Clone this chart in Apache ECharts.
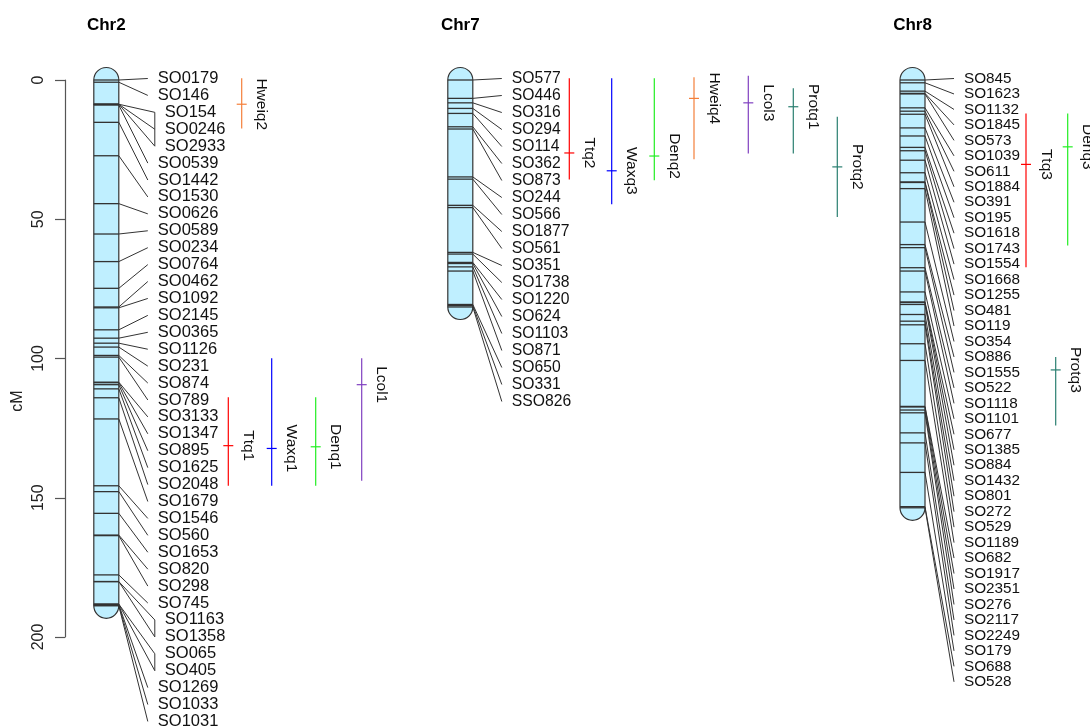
<!DOCTYPE html>
<html>
<head>
<meta charset="utf-8">
<script src="https://cdn.jsdelivr.net/npm/echarts@6/dist/echarts.min.js"></script>
<style>
  html, body { margin: 0; padding: 0; background: #ffffff; }
  #chart { width: 1090px; height: 727px; }
</style>
</head>
<body>
<div id="chart"></div>
<script>
// ---- Linkage groups: marker names and positions (cM) ----
const chromNames = ['Chr2', 'Chr7', 'Chr8'];

const chr2Markers = ['SO0179', 'SO146', 'SO154', 'SO0246', 'SO2933', 'SO0539', 'SO1442', 'SO1530',
  'SO0626', 'SO0589', 'SO0234', 'SO0764', 'SO0462', 'SO1092', 'SO2145', 'SO0365', 'SO1126', 'SO231',
  'SO874', 'SO789', 'SO3133', 'SO1347', 'SO895', 'SO1625', 'SO2048', 'SO1679', 'SO1546', 'SO560',
  'SO1653', 'SO820', 'SO298', 'SO745', 'SO1163', 'SO1358', 'SO065', 'SO405', 'SO1269', 'SO1033', 'SO1031'];
const chr2Pos = [0, 0.8, 8.7, 8.7, 8.7, 9.0, 15.2, 27.2,
  44.4, 55.3, 65.2, 74.8, 81.5, 81.8, 89.7, 92.7, 94.5, 95.9,
  98.9, 99.5, 108.5, 108.7, 109.4, 110.9, 114.1, 121.7, 145.7, 147.8,
  155.6, 163.4, 163.6, 177.7, 180.1, 180.1, 188.2, 188.2, 188.4, 188.6, 188.8];

const chr7Markers = ['SO577', 'SO446', 'SO316', 'SO294', 'SO114', 'SO362', 'SO873', 'SO244', 'SO566',
  'SO1877', 'SO561', 'SO351', 'SO1738', 'SO1220', 'SO624', 'SO1103', 'SO871', 'SO650', 'SO331', 'SSO826'];
const chr7Pos = [0, 6.6, 8.2, 10.2, 12.0, 16.8, 17.6, 34.8, 35.6,
  45.0, 45.8, 61.9, 62.5, 65.5, 65.9, 67.1, 68.6, 80.6, 81.0, 81.5];

const chr8Markers = ['SO845', 'SO1623', 'SO1132', 'SO1845', 'SO573', 'SO1039', 'SO611', 'SO1884', 'SO391',
  'SO195', 'SO1618', 'SO1743', 'SO1554', 'SO1668', 'SO1255', 'SO481', 'SO119', 'SO354', 'SO886', 'SO1555',
  'SO522', 'SO1118', 'SO1101', 'SO677', 'SO1385', 'SO884', 'SO1432', 'SO801', 'SO272', 'SO529', 'SO1189',
  'SO682', 'SO1917', 'SO2351', 'SO276', 'SO2117', 'SO2249', 'SO179', 'SO688', 'SO528'];
const chr8Pos = [0, 1.0, 4.0, 4.8, 5.0, 10.0, 11.2, 12.3, 17.2,
  20.1, 24.2, 25.4, 28.8, 33.3, 36.6, 36.8, 39.0, 51.0, 59.1, 60.2,
  67.4, 68.6, 76.1, 79.7, 79.9, 80.6, 84.2, 86.6, 87.9, 94.7, 100.7,
  117.2, 117.4, 118.5, 119.5, 126.7, 130.3, 140.9, 153.2, 153.6];

// ---- QTL intervals (cM): start, peak, end ----
const qtlNames = ['Hweiq2', 'Ttq1', 'Waxq1', 'Denq1', 'Lcol1',
  'Ttq2', 'Waxq3', 'Denq2', 'Hweiq4', 'Lcol3', 'Protq1', 'Protq2',
  'Ttq3', 'Protq3', 'Denq3'];
const qtlChrom = [0, 0, 0, 0, 0, 1, 1, 1, 1, 1, 1, 1, 2, 2, 2];
const qtlStart = [-0.6, 113.9, 99.9, 113.9, 99.9, -0.6, -0.6, -0.6, -1.0, -1.5, 3.0, 13.2, 12.0, 99.5, 12.0];
const qtlPeak  = [8.7, 131.3, 132.3, 131.7, 109.4, 26.2, 32.6, 27.3, 6.6, 8.2, 9.6, 31.2, 30.3, 104.1, 24.0];
const qtlEnd   = [17.4, 145.7, 145.7, 145.7, 143.9, 35.7, 44.6, 36.0, 28.5, 26.4, 26.4, 49.2, 67.2, 124.1, 59.4];

// ---- Axis ----
const cmMin = 0;
const cmMax = 200;
const cmStep = 50;

// ---- Layout and styles ----
const markerSets = [chr2Markers, chr7Markers, chr8Markers];
const posSets = [chr2Pos, chr7Pos, chr8Pos];

const FONT = '"Liberation Sans", Arial, Helvetica, sans-serif';
const LAYOUT = {
  chromX: [106.3, 460.3, 912.5],
  chromW: 25,
  linkLen: 29,
  labelGap: 10,
  bracketShift: 7,
  labelStep: [16.92, 17.0, 15.47],
  labelFont: [16.5, 15.7, 15.3],
  firstLift: 1.5,
  titleY: 25,
  qtlX: [241.7, 228.3, 271.7, 315.7, 361.7, 569.3, 611.7, 654.3, 694, 748.3, 793.3, 837.3, 1026, 1055.7, 1067.7],
  qtlLabelDx: 20,
  qtlFont: 15.5
};
const QTL_COLORS = {
  Hweiq: '#F47F3A', Ttq: '#FF0000', Waxq: '#0000FF',
  Denq: '#22EE22', Lcol: '#8040C0', Protq: '#2A7F70'
};
const INK = '#333333';

// Marker labels are stacked at an even step, starting level with the first marker
function labelY(api, c, i) {
  const y0 = api.coord([c, posSets[c][0]])[1];
  return y0 - LAYOUT.firstLift + i * LAYOUT.labelStep[c];
}

function renderChrom(params, api) {
  const c = api.value(0);
  const top = api.coord([c, api.value(1)])[1];
  const bot = api.coord([c, api.value(2)])[1];
  const w = LAYOUT.chromW, r = w / 2;
  const cx = LAYOUT.chromX[c];
  return {
    type: 'group',
    children: [
      {
        type: 'rect',
        shape: { x: cx - r, y: top - r, width: w, height: bot - top + w, r: r },
        style: { fill: '#BFEFFF', stroke: INK, lineWidth: 1.2 }
      },
      {
        type: 'text', x: cx, y: LAYOUT.titleY,
        style: { text: chromNames[c], font: 'bold 17px ' + FONT, align: 'center', verticalAlign: 'middle', fill: '#000' }
      }
    ]
  };
}

function renderMarker(params, api) {
  const c = api.value(0);
  const i = api.value(2);
  const pos = posSets[c];
  const y = api.coord([c, pos[i]])[1];
  const ly = labelY(api, c, i);
  const cx = LAYOUT.chromX[c], r = LAYOUT.chromW / 2;
  const inGroup = pos[i] === pos[i - 1] || pos[i] === pos[i + 1];
  const x1 = cx + r;
  const x2 = x1 + LAYOUT.linkLen + (inGroup ? LAYOUT.bracketShift : 0);
  const children = [
    { type: 'line', shape: { x1: cx - r, y1: y, x2: cx + r, y2: y }, style: { stroke: INK, lineWidth: 1.3 } },
    { type: 'line', shape: { x1: x1, y1: y, x2: x2, y2: ly }, style: { stroke: INK, lineWidth: 1 } },
    {
      type: 'text', x: x2 + LAYOUT.labelGap, y: ly,
      style: { text: markerSets[c][i], font: LAYOUT.labelFont[c] + 'px ' + FONT, align: 'left', verticalAlign: 'middle', fill: '#111' }
    }
  ];
  // co-located markers are joined by a bracket
  if (pos[i] !== pos[i - 1] && pos[i] === pos[i + 1]) {
    let j = i;
    while (pos[j + 1] === pos[i]) j++;
    children.push({ type: 'line', shape: { x1: x2, y1: ly, x2: x2, y2: labelY(api, c, j) }, style: { stroke: INK, lineWidth: 1 } });
  }
  return { type: 'group', children: children };
}

function renderQtl(params, api) {
  const q = api.value(2);
  const c = api.value(0);
  const x = LAYOUT.qtlX[q];
  const y0 = api.coord([c, qtlStart[q]])[1];
  const y1 = api.coord([c, qtlEnd[q]])[1];
  const yp = api.coord([c, qtlPeak[q]])[1];
  const color = QTL_COLORS[qtlNames[q].replace(/\d+$/, '')];
  return {
    type: 'group',
    children: [
      { type: 'line', shape: { x1: x, y1: y0, x2: x, y2: y1 }, style: { stroke: color, lineWidth: 1.2 } },
      { type: 'line', shape: { x1: x - 5, y1: yp, x2: x + 5, y2: yp }, style: { stroke: color, lineWidth: 1.2 } },
      {
        type: 'text', x: x + LAYOUT.qtlLabelDx, y: yp, rotation: -Math.PI / 2,
        style: { text: qtlNames[q], font: LAYOUT.qtlFont + 'px ' + FONT, align: 'center', verticalAlign: 'middle', fill: '#111' }
      }
    ]
  };
}

const chromData = chromNames.map((n, c) => ({ name: n, value: [c, posSets[c][0], posSets[c][posSets[c].length - 1]] }));
const markerData = [];
posSets.forEach((pos, c) => pos.forEach((p, i) => markerData.push({ name: markerSets[c][i], value: [c, p, i] })));
const qtlData = qtlNames.map((n, q) => ({ name: n, value: [qtlChrom[q], qtlPeak[q], q] }));

const chart = echarts.init(document.getElementById('chart'), null, { renderer: 'canvas' });
chart.setOption({
  animation: false,
  backgroundColor: '#ffffff',
  grid: { left: 65, top: 80, width: 990, height: 557, containLabel: false, outerBoundsMode: 'none' },
  xAxis: { type: 'value', min: -0.5, max: 2.5, show: false },
  yAxis: {
    type: 'value', inverse: true, min: cmMin, max: cmMax, interval: cmStep,
    axisLine: { show: true, onZero: false, lineStyle: { color: '#555', width: 1.2 } },
    axisTick: { show: true, length: 10, lineStyle: { color: '#555', width: 1.2 } },
    axisLabel: { rotate: 90, margin: 18, fontSize: 16, fontFamily: FONT, color: '#222' },
    splitLine: { show: false }
  },
  graphic: [{
    type: 'text', x: 18, y: 401, rotation: Math.PI / 2,
    style: { text: 'cM', font: '16px ' + FONT, align: 'center', verticalAlign: 'middle', fill: '#222' }
  }],
  series: [
    { type: 'custom', name: 'chromosomes', renderItem: renderChrom, data: chromData, encode: { x: 0, y: 1 }, clip: false, silent: true },
    { type: 'custom', name: 'markers', renderItem: renderMarker, data: markerData, encode: { x: 0, y: 1 }, clip: false, silent: true },
    { type: 'custom', name: 'qtl', renderItem: renderQtl, data: qtlData, encode: { x: 0, y: 1 }, clip: false, silent: true }
  ]
});
</script>
</body>
</html>
